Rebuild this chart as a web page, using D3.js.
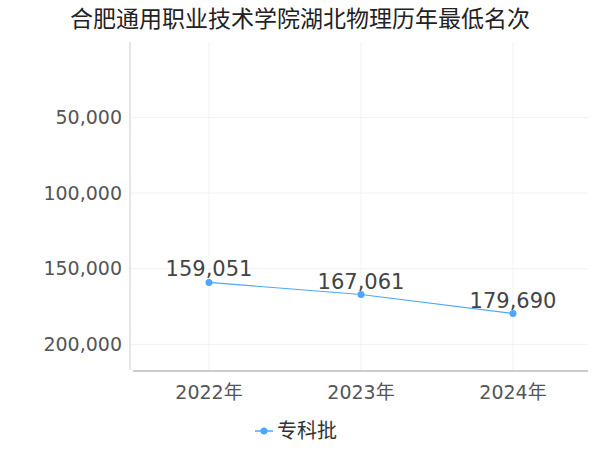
<!DOCTYPE html>
<html><head><meta charset="utf-8">
<script src="https://cdn.jsdelivr.net/npm/d3@7"></script>
<style>body{margin:0;background:#fff}</style>
</head><body><div id="chart"></div>
<script>
const years = ["2022年", "2023年", "2024年"];
const ranks = [159051, 167061, 179690];
const yTicks = [50000, 100000, 150000, 200000];
const seriesName = "专科批";

const width = 600, height = 450;
const font = "'DejaVu Sans', 'Noto Sans CJK SC', sans-serif";
const svg = d3.select("#chart").append("svg").attr("width", width).attr("height", height);

const x = d3.scalePoint().domain(years).range([133, 589]).padding(0.5);
const y = d3.scaleLinear().domain([0, 217000]).range([42, 370]);

// grid
svg.append("g").selectAll("line").data(yTicks).enter().append("line")
  .attr("x1", 130).attr("x2", 588).attr("y1", d => y(d)).attr("y2", d => y(d))
  .attr("stroke", "#f2f2f2");
svg.append("g").selectAll("line").data(years).enter().append("line")
  .attr("x1", d => x(d)).attr("x2", d => x(d)).attr("y1", 42).attr("y2", 370)
  .attr("stroke", "#f2f2f2");

// axes lines
svg.append("line").attr("x1", 130).attr("x2", 130).attr("y1", 42).attr("y2", 370).attr("stroke", "#ccc");
svg.append("line").attr("x1", 133).attr("x2", 588).attr("y1", 371).attr("y2", 371).attr("stroke", "#999");

svg.append("g").selectAll("text").data(yTicks).enter().append("text")
  .attr("x", 122).attr("y", d => y(d)).attr("dy", "0.35em").attr("text-anchor", "end")
  .attr("font-family", font).attr("font-size", 19).attr("fill", "#555")
  .text(d => d3.format(",")(d));
svg.append("g").selectAll("text").data(years).enter().append("text")
  .attr("x", d => x(d)).attr("y", 399).attr("text-anchor", "middle")
  .attr("font-family", font).attr("font-size", 19).attr("fill", "#555")
  .text(d => d);

const line = d3.line().x((d, i) => x(years[i])).y(d => y(d));
svg.append("path").datum(ranks).attr("d", line).attr("fill", "none")
  .attr("stroke", "#4da6ff").attr("stroke-width", 1.2);
svg.append("g").selectAll("circle").data(ranks).enter().append("circle")
  .attr("cx", (d, i) => x(years[i])).attr("cy", d => y(d)).attr("r", 3.5).attr("fill", "#4da6ff");
svg.append("g").selectAll("text").data(ranks).enter().append("text")
  .attr("x", (d, i) => x(years[i])).attr("y", d => y(d) - 6).attr("text-anchor", "middle")
  .attr("font-family", font).attr("font-size", 21).attr("fill", "#444")
  .text(d => d3.format(",")(d));

svg.append("text").attr("x", 300).attr("y", 27).attr("text-anchor", "middle")
  .attr("font-family", font).attr("font-size", 23).attr("fill", "#222")
  .text("合肥通用职业技术学院湖北物理历年最低名次");

// legend
svg.append("line").attr("x1", 255).attr("x2", 273).attr("y1", 431).attr("y2", 431).attr("stroke", "#4da6ff").attr("stroke-width", 1.5);
svg.append("circle").attr("cx", 264).attr("cy", 431).attr("r", 3.5).attr("fill", "#4da6ff");
svg.append("text").attr("x", 277).attr("y", 431).attr("dy", "0.35em")
  .attr("font-family", font).attr("font-size", 20).attr("fill", "#333").text(seriesName);
</script></body></html>
